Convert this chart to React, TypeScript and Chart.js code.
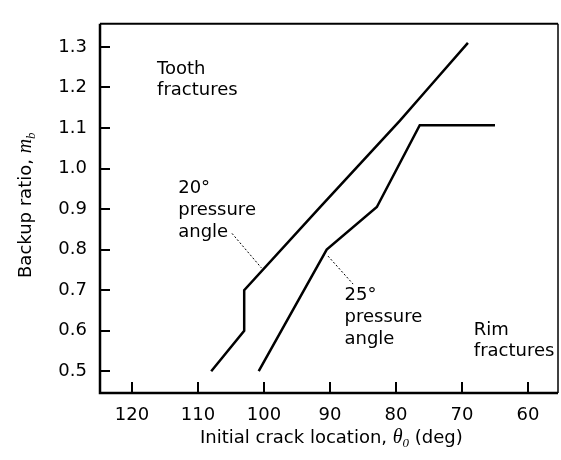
import { useEffect, useRef } from 'react';
import { Chart, registerables } from 'chart.js';

Chart.register(...registerables);

// ---- data ----
const xTickValues = [120, 110, 100, 90, 80, 70, 60];
const yTickValues = [0.5, 0.6, 0.7, 0.8, 0.9, 1.0, 1.1, 1.2, 1.3];
const yTickLabels = ['0.5', '0.6', '0.7', '0.8', '0.9', '1.0', '1.1', '1.2', '1.3'];

const angle20X = [108, 103, 103, 91.5, 79.4, 74.85, 69.1];
const angle20Y = [0.5, 0.6, 0.7, 0.905, 1.118, 1.203, 1.31];

const angle25X = [100.8, 90.5, 82.9, 76.4, 65];
const angle25Y = [0.5, 0.8, 0.905, 1.107, 1.107];

const SANS = '"DejaVu Sans", "Liberation Sans", sans-serif';
const SERIF = '"Liberation Serif", "DejaVu Serif", serif';

const toPoints = (xs: number[], ys: number[]) => xs.map((x, i) => ({ x, y: ys[i] }));

const decorPlugin = {
  id: 'decor',
  afterDraw(chart: any) {
    const { ctx, chartArea } = chart;
    const xs = chart.scales.x;
    const ys = chart.scales.y;
    const { left, right, top, bottom } = chartArea;
    ctx.save();
    ctx.strokeStyle = '#000';
    ctx.lineCap = 'butt';
    // frame
    ctx.lineWidth = 2.5;
    ctx.beginPath();
    ctx.moveTo(left, top);
    ctx.lineTo(left, bottom);
    ctx.lineTo(right, bottom);
    ctx.stroke();
    ctx.lineWidth = 2;
    ctx.beginPath();
    ctx.moveTo(left, top);
    ctx.lineTo(right, top);
    ctx.stroke();
    ctx.lineWidth = 1.5;
    ctx.beginPath();
    ctx.moveTo(right, top);
    ctx.lineTo(right, bottom);
    ctx.stroke();

    // inward ticks
    ctx.lineWidth = 2;
    ctx.beginPath();
    yTickValues.forEach((v) => {
      const py = Math.round(ys.getPixelForValue(v));
      ctx.moveTo(left, py);
      ctx.lineTo(left + 10, py);
    });
    xTickValues.forEach((v) => {
      const px = Math.round(xs.getPixelForValue(v));
      ctx.moveTo(px, bottom);
      ctx.lineTo(px, bottom - 11);
    });
    ctx.stroke();

    // annotations
    ctx.fillStyle = '#000';
    ctx.font = `18px ${SANS}`;
    ctx.textAlign = 'left';
    ctx.textBaseline = 'alphabetic';
    const block = (lines: string[], xv: number, yv: number, lh: number) => {
      const px = xs.getPixelForValue(xv);
      const py = ys.getPixelForValue(yv);
      lines.forEach((t, i) => ctx.fillText(t, px, py + i * lh));
    };
    block(['Tooth', 'fractures'], 116.2, 1.233, 21);
    block(['20°', 'pressure', 'angle'], 113.0, 0.94, 22);
    block(['25°', 'pressure', 'angle'], 87.8, 0.675, 22);
    block(['Rim', 'fractures'], 68.2, 0.59, 21);

    // dotted leaders
    ctx.lineWidth = 1;
    ctx.setLineDash([2, 2]);
    const leader = (x1: number, y1: number, x2: number, y2: number) => {
      ctx.beginPath();
      ctx.moveTo(xs.getPixelForValue(x1), ys.getPixelForValue(y1));
      ctx.lineTo(xs.getPixelForValue(x2), ys.getPixelForValue(y2));
      ctx.stroke();
    };
    leader(104.85, 0.84, 100.4, 0.755);
    leader(90.3, 0.784, 86.5, 0.715);
    ctx.setLineDash([]);

    // x axis title
    let cx = 200;
    const by = 443;
    ctx.font = `18px ${SANS}`;
    const t1 = 'Initial crack location, ';
    ctx.fillText(t1, cx, by);
    cx += ctx.measureText(t1).width;
    ctx.font = `italic 20px ${SERIF}`;
    ctx.fillText('θ', cx, by);
    cx += ctx.measureText('θ').width;
    ctx.font = `italic 13px ${SERIF}`;
    ctx.fillText('0', cx, by + 4);
    cx += ctx.measureText('0').width;
    ctx.font = `18px ${SANS}`;
    ctx.fillText(' (deg)', cx, by);

    // y axis title
    ctx.save();
    ctx.translate(31, 278);
    ctx.rotate(-Math.PI / 2);
    let ty = 0;
    const t2 = 'Backup ratio, ';
    ctx.font = `18px ${SANS}`;
    ctx.fillText(t2, ty, 0);
    ty += ctx.measureText(t2).width;
    ctx.font = `italic 20px ${SERIF}`;
    ctx.fillText('m', ty, 0);
    ty += ctx.measureText('m').width;
    ctx.font = `italic 13px ${SERIF}`;
    ctx.fillText('b', ty, 4);
    ctx.restore();

    ctx.restore();
  },
};

export default function App() {
  const ref = useRef<HTMLCanvasElement | null>(null);
  useEffect(() => {
    document.body.style.margin = '0';
    const canvas = ref.current;
    if (!canvas) return;
    const chart = new Chart(canvas, {
      type: 'scatter',
      data: {
        datasets: [
          {
            label: '20° pressure angle',
            data: toPoints(angle20X, angle20Y),
            showLine: true,
            borderColor: '#000',
            borderWidth: 2.5,
            pointRadius: 0,
            tension: 0,
            fill: false,
          },
          {
            label: '25° pressure angle',
            data: toPoints(angle25X, angle25Y),
            showLine: true,
            borderColor: '#000',
            borderWidth: 2.5,
            pointRadius: 0,
            tension: 0,
            fill: false,
          },
        ],
      },
      options: {
        responsive: false,
        animation: false,
        devicePixelRatio: 1,
        layout: { padding: { left: 0, top: 8, right: 3, bottom: 0 } },
        plugins: { legend: { display: false }, tooltip: { enabled: false } },
        scales: {
          x: {
            type: 'linear',
            reverse: true,
            min: 55.45,
            max: 124.85,
            border: { display: false },
            grid: { display: false, drawTicks: false },
            afterFit: (s: any) => {
              s.height = 67;
            },
            afterBuildTicks: (s: any) => {
              s.ticks = xTickValues.map((v) => ({ value: v }));
            },
            ticks: {
              color: '#000',
              padding: 12,
              maxRotation: 0,
              autoSkip: false,
              font: { family: SANS, size: 18 },
              callback: (v: any) => String(v),
            },
          },
          y: {
            type: 'linear',
            min: 0.4463,
            max: 1.357,
            border: { display: false },
            grid: { display: false, drawTicks: false },
            afterFit: (s: any) => {
              s.width = 100;
            },
            afterBuildTicks: (s: any) => {
              s.ticks = yTickValues.map((v) => ({ value: v }));
            },
            ticks: {
              color: '#000',
              padding: 13,
              autoSkip: false,
              font: { family: SANS, size: 18 },
              callback: (v: any) => {
                const i = yTickValues.findIndex((t) => Math.abs(t - v) < 1e-6);
                return i >= 0 ? yTickLabels[i] : '';
              },
            },
          },
        },
      },
      plugins: [decorPlugin],
    });
    return () => chart.destroy();
  }, []);
  return (
    <div style={{ width: 561, height: 460, background: '#fff' }}>
      <canvas ref={ref} width={561} height={460} />
    </div>
  );
}
